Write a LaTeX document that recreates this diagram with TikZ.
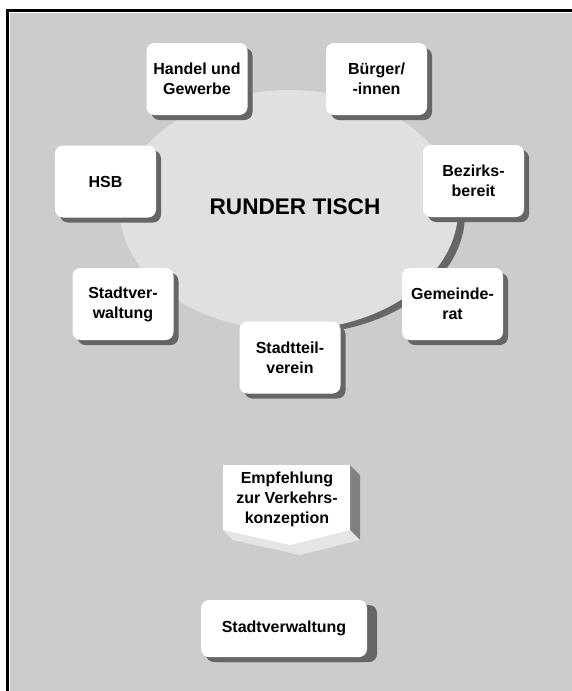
\documentclass[tikz,border=0pt]{standalone}
\usepackage{fontspec}
\setmainfont{Liberation Sans}
\usetikzlibrary{shapes.geometric,shadows}
\definecolor{bggray}{gray}{0.8}
\definecolor{tablegray}{gray}{0.88}
\definecolor{shadowgray}{gray}{0.4}
\definecolor{sidegray}{gray}{0.5}
\definecolor{bottomgray}{gray}{0.9}
\tikzset{
    boxtext/.style={font=\fontsize{16}{20}\selectfont\bfseries, text=black},
    boxshadow/.style={drop shadow={shadow xshift=#1,shadow yshift=-5pt,fill=shadowgray,opacity=1}},
    partybox/.style={boxtext,fill=white,rounded corners=8pt,minimum width=101pt,minimum height=72pt,align=center,inner sep=2pt,boxshadow=5pt},
    wideparty/.style={partybox,minimum width=166pt,minimum height=57pt,boxshadow=10pt},
    tablestyle/.style={ellipse,fill=tablegray,minimum width=338pt,minimum height=240pt,inner sep=0pt},
    tabletitle/.style={font=\fontsize{22.6}{26}\selectfont\bfseries,text=black,inner sep=0pt},
    arrowfront/.style={fill=white},
    arrowside/.style={fill=sidegray},
    arrowbottom/.style={fill=bottomgray}
}

\begin{document}
\begin{tikzpicture}[x=1pt,y=-1pt]
    \clip (0,0) rectangle (572,691);
    % frame
    \fill[white] (0,0) rectangle (572,691);
    \draw[line width=3pt] (7,10) rectangle (640,760);
    \fill[bggray] (10,13) rectangle (640,760);

    % round table, shadow only on the lower right
    \begin{scope}
        \clip (300,200) rectangle (500,400);
        \fill[shadowgray] (296,214) ellipse [x radius=169, y radius=120];
    \end{scope}
    \node[tablestyle] (table) at (289,210) {};
    \node[tabletitle] (tabletitle) at (295,207) {RUNDER TISCH};

    % members round the table
    \node[partybox] (handel) at (197,79) {Handel und\\Gewerbe};
    \node[partybox] (buerger) at (376.5,79) {Bürger/\\-innen};
    \node[partybox] (hsb) at (105.5,181.5) {HSB};
    \node[partybox] (bezirk) at (473.5,181) {Bezirks-\\bereit};
    \node[partybox] (stadtv) at (123,304) {Stadtver-\\waltung};
    \node[partybox] (gemeinde) at (452.5,304) {Gemeinde-\\rat};
    \node[partybox] (stadtteil) at (290,357.5) {Stadtteil-\\verein};

    % recommendation arrow
    \coordinate (a1) at (223,465);
    \coordinate (a2) at (350,465);
    \coordinate (a3) at (350,530);
    \coordinate (a4) at (290,545);
    \coordinate (a5) at (223,530);
    \fill[arrowside] (a2) -- ++(10,10) -- ([shift={(10,10)}]a3) -- (a3) -- cycle;
    \fill[arrowbottom] (a5) -- (a4) -- (a3) -- ([shift={(10,10)}]a3) -- ([shift={(10,10)}]a4) -- ([shift={(10,10)}]a5) -- cycle;
    \fill[arrowfront] (a1) -- (a2) -- (a3) -- (a4) -- (a5) -- cycle;
    \node[boxtext,align=center,inner sep=0pt] (empfehlung) at (287,499) {Empfehlung\\zur Verkehrs-\\konzeption};

    % result
    \node[wideparty] (stadtverwaltung) at (284,628.5) {Stadtverwaltung};
\end{tikzpicture}
\end{document}
